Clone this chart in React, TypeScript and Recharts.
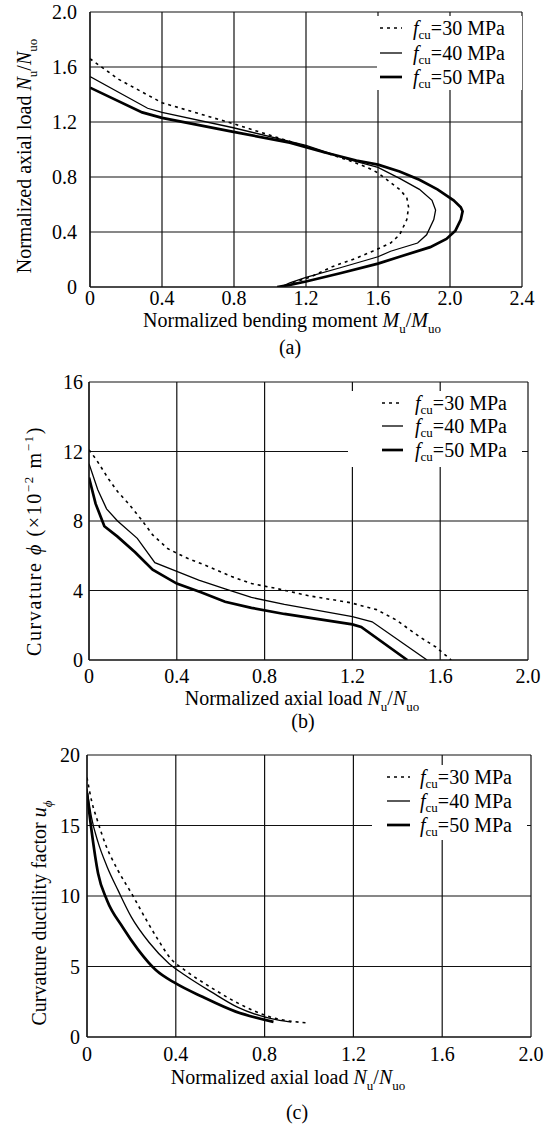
import React from 'react';
import { LineChart, Line, XAxis, YAxis, CartesianGrid, Legend, Label } from 'recharts';

const SERIF = '"Liberation Serif", "Times New Roman", serif';
const FS = 20;

// concrete grades (f_cu, MPa)
const grades = ['30', '40', '50'];
const lineStyle = [
  { width: 1.6, dash: '3 4' },
  { width: 1.3, dash: undefined },
  { width: 2.7, dash: undefined },
];

// (a) interaction curves: bending moment M/Muo vs axial load N/Nuo
const aM30 = [0, 0.16, 0.4, 0.79, 1.18, 1.44, 1.54, 1.6, 1.67, 1.72, 1.76, 1.77, 1.76, 1.72, 1.67, 1.57, 1.48, 1.35, 1.22, 1.12];
const aN30 = [1.66, 1.51, 1.34, 1.19, 1.03, 0.92, 0.87, 0.83, 0.76, 0.71, 0.65, 0.58, 0.49, 0.38, 0.32, 0.26, 0.21, 0.15, 0.07, 0.03];
const aM40 = [0, 0.32, 0.4, 0.79, 1.2, 1.43, 1.6, 1.72, 1.83, 1.9, 1.92, 1.91, 1.87, 1.82, 1.67, 1.6, 1.39, 1.2, 1.11, 1.06];
const aN40 = [1.53, 1.3, 1.27, 1.16, 1.03, 0.93, 0.87, 0.79, 0.71, 0.63, 0.56, 0.49, 0.38, 0.32, 0.26, 0.22, 0.14, 0.07, 0.03, 0];
const aM50 = [0, 0.29, 0.4, 0.79, 1.11, 1.3, 1.48, 1.6, 1.72, 1.83, 1.93, 2.02, 2.06, 2.07, 2.06, 2.03, 1.98, 1.89, 1.72, 1.6, 1.39, 1.2, 1.11, 1.04];
const aN50 = [1.45, 1.27, 1.23, 1.13, 1.05, 0.98, 0.92, 0.89, 0.84, 0.78, 0.71, 0.63, 0.58, 0.55, 0.49, 0.41, 0.35, 0.29, 0.22, 0.17, 0.1, 0.04, 0.015, 0];

// (b) curvature vs axial load
const bN30 = [0, 0.035, 0.09, 0.13, 0.18, 0.24, 0.29, 0.36, 0.44, 0.54, 0.65, 0.74, 0.86, 1.0, 1.19, 1.31, 1.4, 1.51, 1.58, 1.65];
const bPhi30 = [12.1, 11.5, 10.4, 9.7, 9.0, 8.06, 7.2, 6.4, 5.9, 5.4, 4.8, 4.4, 4.1, 3.7, 3.3, 2.9, 2.3, 1.3, 0.75, 0];
const bN40 = [0, 0.04, 0.08, 0.13, 0.22, 0.3, 0.4, 0.5, 0.62, 0.74, 0.89, 1.2, 1.29, 1.54];
const bPhi40 = [11.3, 9.8, 8.7, 8.0, 7.0, 5.6, 5.1, 4.6, 4.1, 3.6, 3.2, 2.5, 2.2, 0];
const bN50 = [0, 0.03, 0.07, 0.13, 0.21, 0.29, 0.4, 0.51, 0.62, 0.74, 0.89, 1.2, 1.24, 1.45];
const bPhi50 = [10.5, 9.0, 7.7, 7.1, 6.2, 5.2, 4.4, 3.9, 3.35, 3.0, 2.65, 2.05, 1.9, 0];

// (c) curvature ductility factor vs axial load
const cN30 = [0, 0.02, 0.05, 0.08, 0.14, 0.2, 0.26, 0.32, 0.38, 0.44, 0.56, 0.68, 0.83, 0.99];
const cU30 = [18.4, 16.8, 15.2, 13.8, 11.8, 10.2, 8.5, 6.9, 5.5, 4.75, 3.5, 2.4, 1.4, 1.0];
const cN40 = [0, 0.02, 0.05, 0.09, 0.14, 0.2, 0.28, 0.37, 0.44, 0.56, 0.68, 0.83, 0.92];
const cU40 = [17.6, 15.6, 13.8, 12.1, 10.4, 8.5, 6.7, 5.2, 4.4, 3.2, 2.1, 1.3, 1.05];
const cN50 = [0, 0.02, 0.05, 0.09, 0.16, 0.23, 0.31, 0.4, 0.52, 0.67, 0.84];
const cU50 = [17.3, 14.7, 11.6, 9.7, 7.8, 6.2, 4.75, 3.8, 2.85, 1.8, 1.07];

// tick values
const aXTicks = [0, 0.4, 0.8, 1.2, 1.6, 2.0, 2.4];
const aYTicks = [0, 0.4, 0.8, 1.2, 1.6, 2.0];
const loadTicks = [0, 0.4, 0.8, 1.2, 1.6, 2.0];
const bYTicks = [0, 4, 8, 12, 16];
const cYTicks = [0, 5, 10, 15, 20];

const zip = (xs: number[], ys: number[]) => xs.map((x, i) => ({ x, y: ys[i] }));
const fmt1 = (v: number) => (v === 0 ? '0' : v.toFixed(1));
const fmt0 = (v: number) => String(v);

type Part = { t: string; it?: boolean; sub?: boolean; sup?: boolean };

function Rich({ x, y, parts, rotate = false, spacing = 0 }: { x: number; y: number; parts: Part[]; rotate?: boolean; spacing?: number }) {
  let shift = 0;
  return (
    <text
      x={x}
      y={y}
      textAnchor="middle"
      fontSize={FS}
      fill="#000"
      fontFamily={SERIF}
      letterSpacing={spacing}
      transform={rotate ? `rotate(-90 ${x} ${y})` : undefined}
    >
      {parts.map((p, i) => {
        const target = p.sub ? FS * 0.28 : p.sup ? -FS * 0.4 : 0;
        const dy = target - shift;
        shift = target;
        return (
          <tspan key={i} dy={dy} fontStyle={p.it ? 'italic' : 'normal'} fontSize={p.sub || p.sup ? FS * 0.65 : FS}>
            {p.t}
          </tspan>
        );
      })}
    </text>
  );
}

const loadTitle: Part[] = [
  { t: 'Normalized axial load ' },
  { t: 'N', it: true },
  { t: 'u', sub: true },
  { t: '/' },
  { t: 'N', it: true },
  { t: 'uo', sub: true },
];
const momentTitle: Part[] = [
  { t: 'Normalized bending moment ' },
  { t: 'M', it: true },
  { t: 'u', sub: true },
  { t: '/' },
  { t: 'M', it: true },
  { t: 'uo', sub: true },
];
const curvTitle: Part[] = [
  { t: 'Curvature ' },
  { t: '\u03D5', it: true },
  { t: ' (\u00D710' },
  { t: '\u22122', sup: true },
  { t: ' m' },
  { t: '\u22121', sup: true },
  { t: ')' },
];
const ductTitle: Part[] = [
  { t: 'Curvature ductility factor ' },
  { t: 'u', it: true },
  { t: '\u03D5', it: true, sub: true },
];

function LegendBox({ padLeft, sample, gap, rowH }: { padLeft: number; sample: number; gap: number; rowH: number }) {
  return (
    <div
      style={{
        background: '#fff',
        width: '100%',
        height: '100%',
        paddingLeft: padLeft,
        boxSizing: 'border-box',
        fontFamily: SERIF,
        fontSize: FS,
        color: '#000',
      }}
    >
      {grades.map((g, i) => (
        <div key={g} style={{ display: 'flex', alignItems: 'center', height: rowH }}>
          <svg width={sample} height={8}>
            <line x1={0} x2={sample} y1={4} y2={4} stroke="#000" strokeWidth={lineStyle[i].width} strokeDasharray={lineStyle[i].dash} />
          </svg>
          <span style={{ marginLeft: gap, lineHeight: 1, whiteSpace: 'nowrap' }}>
            <i>f</i>
            <span style={{ fontSize: FS * 0.65, position: 'relative', top: 4 }}>cu</span>={g} MPa
          </span>
        </div>
      ))}
    </div>
  );
}

type PanelProps = {
  top: number;
  height: number;
  margin: { top: number; right: number; left: number; bottom: number };
  yWidth: number;
  xHeight: number;
  xDomain: [number, number];
  yDomain: [number, number];
  xTicks: number[];
  yTicks: number[];
  yFmt: (v: number) => string;
  xTickMargin: number;
  yTickMargin: number;
  series: { x: number; y: number }[][];
  curve: 'linear' | 'monotone';
  xTitle: Part[];
  xTitlePos: [number, number];
  caption: string;
  captionPos: [number, number];
  yTitle: Part[];
  yTitlePos: [number, number];
  yTitleSpacing?: number;
  legend: { left: number; top: number; width: number; height: number; padLeft: number; sample: number; gap: number; rowH: number };
};

function Panel(p: PanelProps) {
  return (
    <div style={{ position: 'absolute', left: 0, top: p.top, fontFamily: SERIF }}>
      <LineChart width={550} height={p.height} margin={p.margin}>
        <CartesianGrid stroke="#111" strokeWidth={1.2} />
        <XAxis
          type="number"
          dataKey="x"
          domain={p.xDomain}
          ticks={p.xTicks}
          interval={0}
          allowDataOverflow
          tickFormatter={fmt1}
          tickSize={0}
          tickMargin={p.xTickMargin}
          height={p.xHeight}
          axisLine={{ stroke: '#111', strokeWidth: 1.2 }}
          tick={{ fill: '#000', fontSize: FS }}
        >
          <Label
            content={() => (
              <g>
                <Rich x={p.xTitlePos[0]} y={p.xTitlePos[1]} parts={p.xTitle} />
                <Rich x={p.captionPos[0]} y={p.captionPos[1]} parts={[{ t: p.caption }]} />
              </g>
            )}
          />
        </XAxis>
        <YAxis
          type="number"
          dataKey="y"
          domain={p.yDomain}
          ticks={p.yTicks}
          interval={0}
          allowDataOverflow
          tickFormatter={p.yFmt}
          tickSize={0}
          tickMargin={p.yTickMargin}
          width={p.yWidth}
          axisLine={{ stroke: '#111', strokeWidth: 1.2 }}
          tick={{ fill: '#000', fontSize: FS }}
        >
          <Label
            content={() => (
              <Rich x={p.yTitlePos[0]} y={p.yTitlePos[1]} parts={p.yTitle} rotate spacing={p.yTitleSpacing ?? 0} />
            )}
          />
        </YAxis>
        {p.series.map((d, i) => (
          <Line
            key={grades[i]}
            name={grades[i]}
            data={d}
            dataKey="y"
            type={p.curve}
            stroke="#000"
            strokeWidth={lineStyle[i].width}
            strokeDasharray={lineStyle[i].dash}
            dot={false}
            activeDot={false}
            isAnimationActive={false}
          />
        ))}
        <Legend
          layout="vertical"
          align="center"
          verticalAlign="middle"
          wrapperStyle={{ left: p.legend.left, top: p.legend.top, width: p.legend.width, height: p.legend.height }}
          content={() => (
            <LegendBox padLeft={p.legend.padLeft} sample={p.legend.sample} gap={p.legend.gap} rowH={p.legend.rowH} />
          )}
        />
      </LineChart>
    </div>
  );
}

export default function App() {
  return (
    <div style={{ position: 'absolute', left: 0, top: 0, width: 550, height: 1128, background: '#fff', overflow: 'hidden' }}>
      <Panel
        top={0}
        height={360}
        margin={{ top: 12, right: 28, left: 0, bottom: 0 }}
        yWidth={90}
        xHeight={73}
        xDomain={[0, 2.4]}
        yDomain={[0, 2.0]}
        xTicks={aXTicks}
        yTicks={aYTicks}
        yFmt={fmt1}
        xTickMargin={4}
        yTickMargin={13}
        series={[zip(aM30, aN30), zip(aM40, aN40), zip(aM50, aN50)]}
        curve="linear"
        xTitle={momentTitle}
        xTitlePos={[292, 327]}
        caption="(a)"
        captionPos={[290, 354]}
        yTitle={loadTitle}
        yTitlePos={[31, 156]}
        legend={{ left: 377, top: 16, width: 145, height: 74, padLeft: 3, sample: 22, gap: 11, rowH: 24.5 }}
      />
      <Panel
        top={360}
        height={374}
        margin={{ top: 22, right: 22, left: 0, bottom: 0 }}
        yWidth={89}
        xHeight={74}
        xDomain={[0, 2.0]}
        yDomain={[0, 16]}
        xTicks={loadTicks}
        yTicks={bYTicks}
        yFmt={fmt0}
        xTickMargin={9}
        yTickMargin={6}
        series={[zip(bN30, bPhi30), zip(bN40, bPhi40), zip(bN50, bPhi50)]}
        curve="linear"
        xTitle={loadTitle}
        xTitlePos={[302, 345]}
        caption="(b)"
        captionPos={[303, 368]}
        yTitle={curvTitle}
        yTitlePos={[41, 181]}
        yTitleSpacing={1.6}
        legend={{ left: 348, top: 31, width: 174, height: 76, padLeft: 34, sample: 21, gap: 12, rowH: 23.5 }}
      />
      <Panel
        top={730}
        height={398}
        margin={{ top: 25, right: 19, left: 0, bottom: 0 }}
        yWidth={87}
        xHeight={91}
        xDomain={[0, 2.0]}
        yDomain={[0, 20]}
        xTicks={loadTicks}
        yTicks={cYTicks}
        yFmt={fmt0}
        xTickMargin={10}
        yTickMargin={7}
        series={[zip(cN30, cU30), zip(cN40, cU40), zip(cN50, cU50)]}
        curve="monotone"
        xTitle={loadTitle}
        xTitlePos={[288, 354]}
        caption="(c)"
        captionPos={[297, 389]}
        yTitle={ductTitle}
        yTitlePos={[46, 183]}
        legend={{ left: 372, top: 35, width: 155, height: 75, padLeft: 15, sample: 23, gap: 10, rowH: 24 }}
      />
    </div>
  );
}
